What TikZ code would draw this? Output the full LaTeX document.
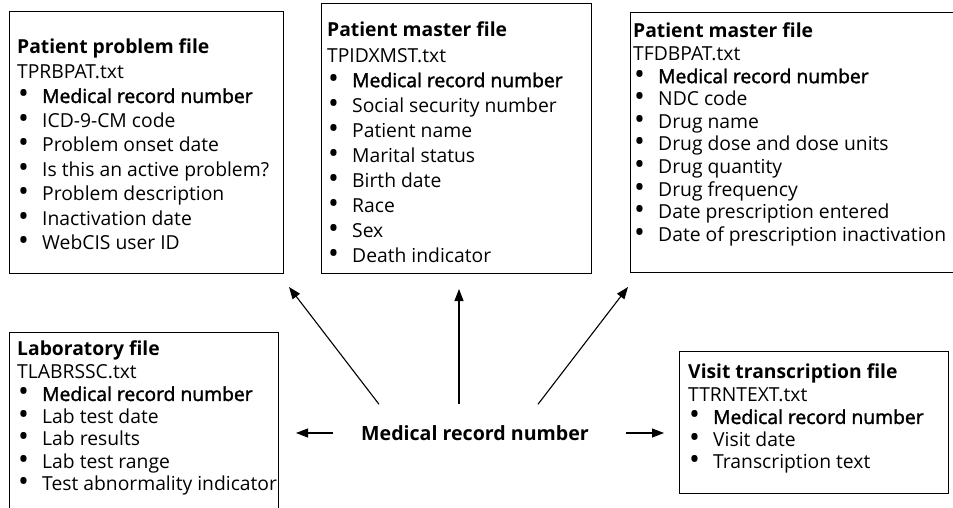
\documentclass[tikz,border=0pt]{standalone}
\usepackage{fontspec}
\setmainfont{Open Sans}
\newfontfamily\keyfont[FakeBold=1.8]{Open Sans}
\usetikzlibrary{arrows.meta, positioning}

\newcommand{\ftitle}[1]{\textbf{#1}}
\newcommand{\fitem}[1]{\makebox[25pt][l]{\hspace{1pt}\smash{\raisebox{-1pt}{\scalebox{1.5}{\textbullet}}}}#1}
\newcommand{\fkey}{\fitem{\keyfont Medical record number}}

\begin{document}
\begin{tikzpicture}[x=1pt, y=-1pt,
    filebox/.style={draw, line width=1.2pt, anchor=north west, inner sep=0pt},
    filetext/.style={anchor=north west, align=left, inner sep=0pt,
                     font=\fontsize{19.3}{#1}\selectfont},
    link/.style={draw, -{Triangle[length=12pt, width=9pt]}, line width=1.1pt}
  ]
  \useasboundingbox (0,0) rectangle (953,508);
  \clip (0,0) rectangle (953,508);

  % file frames
  \node[filebox, minimum width=274, minimum height=262] (probbox) at (9,11) {};
  \node[filebox, minimum width=270, minimum height=270] (mstbox)  at (321,3) {};
  \node[filebox, minimum width=350, minimum height=260] (drugbox) at (630,12) {};
  \node[filebox, minimum width=269, minimum height=200] (labbox)  at (9,332) {};
  \node[filebox, minimum width=269, minimum height=142] (visbox)  at (679,351) {};

  % file contents
  \node[filetext=24.5pt] (prob) at (17,39) {\ftitle{Patient problem file}\\
    TPRBPAT.txt\\ \fkey\\ \fitem{ICD-9-CM code}\\ \fitem{Problem onset date}\\
    \fitem{Is this an active problem?}\\ \fitem{Problem description}\\
    \fitem{Inactivation date}\\ \fitem{WebCIS user ID}};
  \node[filetext=25.1pt] (mst) at (327,22) {\ftitle{Patient master file}\\
    TPIDXMST.txt\\ \fkey\\ \fitem{Social security number}\\ \fitem{Patient name}\\
    \fitem{Marital status}\\ \fitem{Birth date}\\ \fitem{Race}\\ \fitem{Sex}\\
    \fitem{Death indicator}};
  \node[filetext=22.6pt] (drug) at (633,23) {\ftitle{Patient master file}\\
    TFDBPAT.txt\\ \fkey\\ \fitem{NDC code}\\ \fitem{Drug name}\\
    \fitem{Drug dose and dose units}\\ \fitem{Drug quantity}\\
    \fitem{Drug frequency}\\ \fitem{Date prescription entered}\\
    \fitem{Date of prescription inactivation}};
  \node[filetext=22.5pt] (lab) at (17,341) {\ftitle{Laboratory file}\\
    TLABRSSC.txt\\ \fkey\\ \fitem{Lab test date}\\ \fitem{Lab results}\\
    \fitem{Lab test range}\\ \fitem{Test abnormality indicator}};
  \node[filetext=22.5pt] (vis) at (688,364) {\ftitle{Visit transcription file}\\
    TTRNTEXT.txt\\ \fkey\\ \fitem{Visit date}\\ \fitem{Transcription text}};

  % shared key
  \node[font=\fontsize{19.6}{23}\selectfont\bfseries, inner sep=0pt] (mrn) at (475,433)
    {Medical record number};

  \coordinate (probtip) at (289,287);
  \coordinate (msttip)  at (459,289);
  \coordinate (drugtip) at (628,287);
  \coordinate (labtip)  at (296,433);
  \coordinate (vistip)  at (664,433);

  \draw[link] ([xshift=-96pt, yshift=21pt]mrn.north) -- (probtip);
  \draw[link] ([xshift=-16pt, yshift=21pt]mrn.north) -- (msttip);
  \draw[link] ([xshift=63pt, yshift=21pt]mrn.north)  -- (drugtip);
  \draw[link] ([xshift=-28pt]mrn.west) -- (labtip);
  \draw[link] ([xshift=37pt]mrn.east)  -- (vistip);

\end{tikzpicture}
\end{document}
